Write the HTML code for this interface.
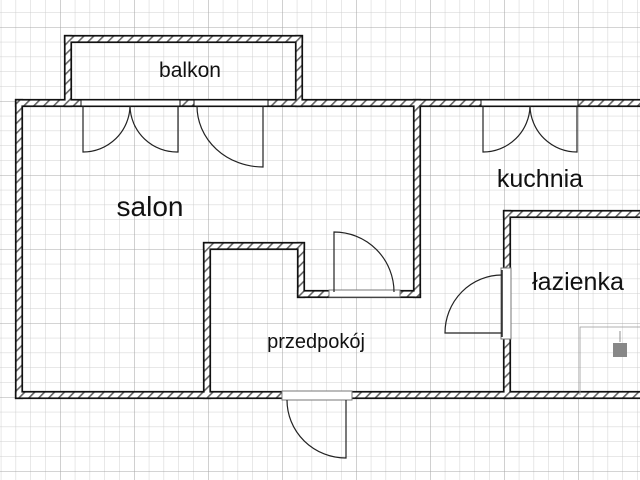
<!DOCTYPE html>
<html><head><meta charset="utf-8"><style>
html,body{margin:0;padding:0;background:#fff;width:640px;height:480px;overflow:hidden}
svg{display:block}
text{font-family:"Liberation Sans",sans-serif;fill:#111}
</style></head><body>
<svg width="640" height="480" viewBox="0 0 640 480" xmlns="http://www.w3.org/2000/svg">
<defs>
<pattern id="g" x="0.8" y="-2.6" width="14.8" height="14.8" patternUnits="userSpaceOnUse">
<path d="M0 0V14.8M0 0H14.8" stroke="#cfcfcf" stroke-width="1" fill="none"/>
</pattern>
<pattern id="G" x="60" y="27" width="74" height="74" patternUnits="userSpaceOnUse">
<path d="M0 0V74M0 0H74" stroke="#a8a8a8" stroke-width="1.1" fill="none"/>
</pattern>
<pattern id="h" width="7" height="7" patternUnits="userSpaceOnUse" patternTransform="rotate(45)">
<rect width="7" height="7" fill="#fff"/><rect width="1.6" height="7" fill="#666"/>
</pattern>
</defs>
<rect width="640" height="480" fill="url(#g)"/>
<rect width="640" height="480" fill="url(#G)"/>
<g id="walls">
<rect x="65" y="36" width="237" height="6"/>
<rect x="65" y="36" width="6" height="70"/>
<rect x="296" y="36" width="6" height="70"/>
<rect x="16" y="100" width="630" height="6"/>
<rect x="16" y="100" width="6" height="298"/>
<rect x="16" y="392" width="630" height="6"/>
<rect x="414" y="100" width="6" height="197"/>
<rect x="298" y="291" width="122" height="6"/>
<rect x="298" y="243" width="6" height="54"/>
<rect x="204" y="243" width="100" height="6"/>
<rect x="204" y="243" width="6" height="155"/>
<rect x="504" y="211" width="6" height="187"/>
<rect x="504" y="211" width="140" height="6"/>
</g>
<use href="#walls" fill="url(#h)" stroke="#111" stroke-width="2.2"/>
<g fill="url(#h)">
<rect x="65.6" y="36.6" width="235.8" height="4.8"/>
<rect x="65.6" y="36.6" width="4.8" height="68.8"/>
<rect x="296.6" y="36.6" width="4.8" height="68.8"/>
<rect x="16.6" y="100.6" width="628.8" height="4.8"/>
<rect x="16.6" y="100.6" width="4.8" height="296.8"/>
<rect x="16.6" y="392.6" width="628.8" height="4.8"/>
<rect x="414.6" y="100.6" width="4.8" height="195.8"/>
<rect x="298.6" y="291.6" width="120.8" height="4.8"/>
<rect x="298.6" y="243.6" width="4.8" height="52.8"/>
<rect x="204.6" y="243.6" width="98.8" height="4.8"/>
<rect x="204.6" y="243.6" width="4.8" height="153.8"/>
<rect x="504.6" y="211.6" width="4.8" height="185.8"/>
<rect x="504.6" y="211.6" width="138.8" height="4.8"/>
</g>
<g fill="#fff" stroke="#111" stroke-width="1">
<rect x="81" y="100" width="99" height="6"/>
<rect x="194" y="100" width="74" height="6"/>
<rect x="481" y="100" width="97" height="6"/>
<rect x="329" y="290" width="71" height="7" stroke="#777"/>
<rect x="501" y="268" width="10" height="71" stroke="#777"/>
<rect x="282" y="391" width="70" height="9" stroke="#777"/>
</g>
<g fill="none" stroke="#222" stroke-width="1.2">
<path d="M83 106V152A47 47 0 0 0 130 106"/>
<path d="M178 106V152A47 47 0 0 1 130 106"/>
<path d="M263 106V167A66 61 0 0 1 197 106"/>
<path d="M483 106V152A47 47 0 0 0 530 106"/>
<path d="M577 106V152A47 47 0 0 1 530 106"/>
<path d="M334 292V232A60 60 0 0 1 394 292"/>
<path d="M502 333H445A57 58 0 0 1 502 275"/>
<path d="M346 400V458A59 58 0 0 1 287 400"/>
<path d="M502 270V337" stroke-width="1.5"/>
<path d="M580 395V327H640" stroke="#999" stroke-width="0.8"/>
<path d="M620 331V342" stroke="#777" stroke-width="0.8"/>
</g>
<rect x="613" y="343" width="14" height="14" fill="#888"/>
<text x="190" y="77" font-size="21" text-anchor="middle">balkon</text>
<text x="150" y="216" font-size="28" text-anchor="middle">salon</text>
<text x="540" y="187" font-size="25" text-anchor="middle">kuchnia</text>
<text x="578" y="290" font-size="25" text-anchor="middle">łazienka</text>
<text x="316" y="348" font-size="20" text-anchor="middle">przedpokój</text>
</svg>
</body></html>
